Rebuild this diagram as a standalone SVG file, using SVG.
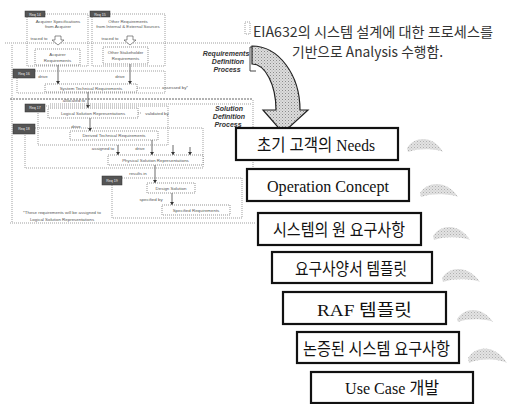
<svg xmlns="http://www.w3.org/2000/svg" width="510" height="404" viewBox="0 0 510 404">
<style>
.dl{fill:none;stroke:#777;stroke-width:0.7;stroke-dasharray:1,1}
.dd{fill:none;stroke:#555;stroke-width:0.9;stroke-dasharray:2,1}
.ib{fill:#fff;stroke:#666;stroke-width:0.7;stroke-dasharray:1,1}
.tag{fill:#555;stroke:#333;stroke-width:0.5}
.tt{font-family:"Liberation Sans",Arial,sans-serif;font-size:3.6px;fill:#eee;text-anchor:middle}
.st{font-family:"Liberation Sans",Arial,sans-serif;font-size:4.4px;fill:#555;text-anchor:middle}
.bt{font-family:"Liberation Sans",Arial,sans-serif;font-size:7px;font-weight:bold;font-style:italic;fill:#333;text-anchor:middle}
.ar{stroke:#444;stroke-width:0.8;fill:none;marker-end:url(#ah)}
.box{fill:#fff;stroke:#111;stroke-width:2.2}
.bx{font-family:"Liberation Serif","Noto Sans CJK KR",serif;font-size:17px;fill:#111;text-anchor:middle}
.top{font-family:"Noto Sans CJK KR","Liberation Sans",sans-serif;font-size:14px;fill:#333;text-anchor:middle}
.br{fill:url(#stip2)}
</style>
<defs>
<marker id="ah" markerWidth="4" markerHeight="4" refX="3" refY="2" orient="auto" markerUnits="userSpaceOnUse">
<path d="M0,0 L3,2 L0,4 Z" fill="#333"/>
</marker>
<pattern id="stip" width="3" height="3" patternUnits="userSpaceOnUse">
<rect width="3" height="3" fill="#dcdcdc"/>
<rect x="0" y="0" width="1" height="1" fill="#8a8a8a"/>
<rect x="1.5" y="1.5" width="1" height="1" fill="#a8a8a8"/>
</pattern>
<pattern id="stip2" width="3" height="3" patternUnits="userSpaceOnUse">
<rect width="3" height="3" fill="#e2e2e2"/>
<rect x="0" y="0" width="1" height="1" fill="#b0b0b0"/>
<rect x="1.5" y="1.5" width="1" height="1" fill="#c4c4c4"/>
</pattern>
</defs>

<g id="left-diagram">
<line class="dl" x1="5" y1="43" x2="250" y2="43"/>
<line class="dd" x1="10" y1="99" x2="252" y2="99"/>
<line class="dl" x1="50" y1="104" x2="252" y2="104"/>
<line class="dl" x1="10" y1="223" x2="255" y2="223"/>
<line class="dl" x1="12" y1="45" x2="12" y2="222"/>
<line class="dl" x1="253" y1="100" x2="253" y2="200"/>
<rect class="dl" x="245" y="22" width="5" height="12"/>
<path d="M254,47 L250,47 L250,71 L256,71" fill="none" stroke="#333" stroke-width="0.9"/>
<text class="bt" x="226" y="56">Requirements</text>
<text class="bt" x="228" y="64">Definition</text>
<text class="bt" x="227" y="72">Process</text>
<text class="bt" x="229" y="111">Solution</text>
<text class="bt" x="229" y="119">Definition</text>
<text class="bt" x="228" y="127">Process</text>
</g>

<g id="connectors-left">
<path class="ar" d="M58,65 L58,84"/>
<path class="ar" d="M130,64 L130,84"/>
<path class="ar" d="M88,92 L88,108"/>
<path class="ar" d="M90,118 L90,131"/>
<path class="ar" d="M118,145 L118,155"/>
<path class="ar" d="M152,140 L152,155"/>
<path class="ar" d="M173,145 L173,155"/>
<path class="ar" d="M190,147 L190,155"/>
<path class="ar" d="M155,165 L155,183"/>
<path class="ar" d="M172,193 L172,205"/>
<line class="dl" x1="137" y1="88" x2="160" y2="88"/>
<line class="dl" x1="138" y1="113" x2="142" y2="113"/>
</g>

<g id="acquirer">
<rect class="dl" x="27" y="14" width="61" height="52"/>
<rect class="tag" x="25" y="11" width="20" height="6"/>
<text class="tt" x="35" y="15.5">Req 14</text>
<text class="st" x="58" y="23">Acquirer Specifications</text>
<text class="st" x="58" y="28">from Acquirer</text>
<text class="st" x="39" y="40">traced to</text>
<path d="M55,36 L61,36 L61,40 L64,40 L58,45 L52,40 L55,40 Z" fill="#fff" stroke="#444" stroke-width="0.6"/>
<rect class="ib" x="35" y="49" width="45" height="16"/>
<text class="st" x="57.5" y="56">Acquirer</text>
<text class="st" x="57.5" y="62">Requirements</text>
</g>

<g id="other-stakeholder">
<rect class="dl" x="92" y="14" width="73" height="52"/>
<rect class="tag" x="90" y="11" width="20" height="6"/>
<text class="tt" x="100" y="15.5">Req 15</text>
<text class="st" x="128" y="23">Other Requirements</text>
<text class="st" x="128" y="28">from Internal &amp; External Sources</text>
<text class="st" x="110" y="40">traced to</text>
<path d="M127,36 L133,36 L133,40 L136,40 L130,45 L124,40 L127,40 Z" fill="#fff" stroke="#444" stroke-width="0.6"/>
<rect class="ib" x="103" y="47" width="45" height="17"/>
<text class="st" x="125.5" y="54">Other Stakeholder</text>
<text class="st" x="125.5" y="60">Requirements</text>
</g>

<g id="system-technical">
<rect class="dl" x="17" y="71" width="148" height="22"/>
<rect class="tag" x="13" y="69" width="22" height="9"/>
<text class="tt" x="24" y="75">Req 16</text>
<text class="st" x="43" y="78">drive</text>
<text class="st" x="120" y="78">drive</text>
<rect class="ib" x="45" y="84" width="92" height="8"/>
<text class="st" x="91" y="89.6">System Technical Requirements</text>
<text class="st" x="175" y="89">assessed by*</text>
<text class="st" x="74" y="102">allocated to</text>
</g>

<g id="logical-solution">
<rect class="dl" x="38" y="106" width="130" height="39"/>
<rect class="tag" x="25" y="104" width="20" height="8"/>
<text class="tt" x="35" y="109.3">Req 17</text>
<rect class="ib" x="48" y="108" width="90" height="10"/>
<text class="st" x="93" y="114.6">Logical Solution Representations</text>
<text class="st" x="157" y="115">validated by</text>
<text class="st" x="76" y="128">drive</text>
<rect class="ib" x="70" y="131" width="88" height="9"/>
<text class="st" x="114" y="137">Derived Technical Requirements</text>
</g>

<g id="physical-solution">
<rect class="dl" x="25" y="128" width="178" height="40"/>
<rect class="tag" x="13" y="124" width="22" height="10"/>
<text class="tt" x="24" y="130.3">Req 18</text>
<text class="st" x="103" y="150">assigned to</text>
<text class="st" x="140" y="150">drive</text>
<rect class="ib" x="108" y="155" width="95" height="10"/>
<text class="st" x="155.5" y="161.6">Physical Solution Representations</text>
</g>

<g id="design-solution">
<rect class="dl" x="112" y="178" width="130" height="40"/>
<rect class="tag" x="102" y="176" width="20" height="9"/>
<text class="tt" x="112" y="181.8">Req 19</text>
<text class="st" x="138" y="175">results in</text>
<rect class="ib" x="147" y="183" width="48" height="10"/>
<text class="st" x="171" y="189.6">Design Solution</text>
<text class="st" x="151" y="201">specified by</text>
<rect class="ib" x="162" y="205" width="68" height="10"/>
<text class="st" x="196" y="211.6">Specified Requirements</text>
<text class="st" x="62" y="214">*These requirements will be assigned to</text>
<text class="st" x="62" y="221">Logical Solution Representations</text>
</g>

<g id="big-arrow">
<path d="M252,46 A48,64 0 0 1 300,110 L308,110 L283,133 L263,110 L276,110 A24,46 0 0 0 252,64 Z" fill="url(#stip)" stroke="#222" stroke-width="1.2"/>
</g>

<g id="caption">
<text class="top" x="373" y="37" textLength="240" lengthAdjust="spacingAndGlyphs">EIA632의 시스템 설계에 대한 프로세스를</text>
<text class="top" x="367.5" y="57" textLength="151" lengthAdjust="spacingAndGlyphs">기반으로 Analysis 수행함.</text>
</g>

<g id="n1"><rect class="box" x="236" y="128" width="162" height="32"/><text class="bx" x="316" y="150.5" textLength="118" lengthAdjust="spacingAndGlyphs">초기 고객의 Needs</text></g>
<g id="n2"><rect class="box" x="247" y="169" width="162" height="32"/><text class="bx" x="328" y="192" textLength="122" lengthAdjust="spacingAndGlyphs">Operation Concept</text></g>
<g id="n3"><rect class="box" x="258" y="213" width="163" height="32"/><text class="bx" x="339" y="236" textLength="132" lengthAdjust="spacingAndGlyphs">시스템의 원 요구사항</text></g>
<g id="n4"><rect class="box" x="272" y="252" width="160" height="31"/><text class="bx" x="351" y="275" textLength="112" lengthAdjust="spacingAndGlyphs">요구사양서 템플릿</text></g>
<g id="n5"><rect class="box" x="283" y="292" width="163" height="32"/><text class="bx" x="364.5" y="316" textLength="95" lengthAdjust="spacingAndGlyphs">RAF 템플릿</text></g>
<g id="n6"><rect class="box" x="297" y="332" width="162" height="31"/><text class="bx" x="376.5" y="355" textLength="147" lengthAdjust="spacingAndGlyphs">논증된 시스템 요구사항</text></g>
<g id="n7"><rect class="box" x="311" y="372" width="162" height="31"/><text class="bx" x="392" y="394" textLength="94" lengthAdjust="spacingAndGlyphs">Use Case 개발</text></g>

<g id="brushes">
<path class="br" d="M407,148 C415,136 433,135 443,152 C436,149 420,148 408,152 Z"/>
<path class="br" d="M420,193 C428,181 447,180 458,197 C450,194 433,193 421,197 Z"/>
<path class="br" d="M433,236 C441,224 459,223 470,240 C462,237 446,236 434,240 Z"/>
<path class="br" d="M442,278 C450,266 468,265 480,282 C472,279 455,278 443,282 Z"/>
<path class="br" d="M457,319 C465,307 482,306 493,322 C486,319 469,318 458,322 Z"/>
<path class="br" d="M468,358 C476,345 495,344 507,363 C499,359 481,358 469,363 Z"/>
</g>
</svg>
